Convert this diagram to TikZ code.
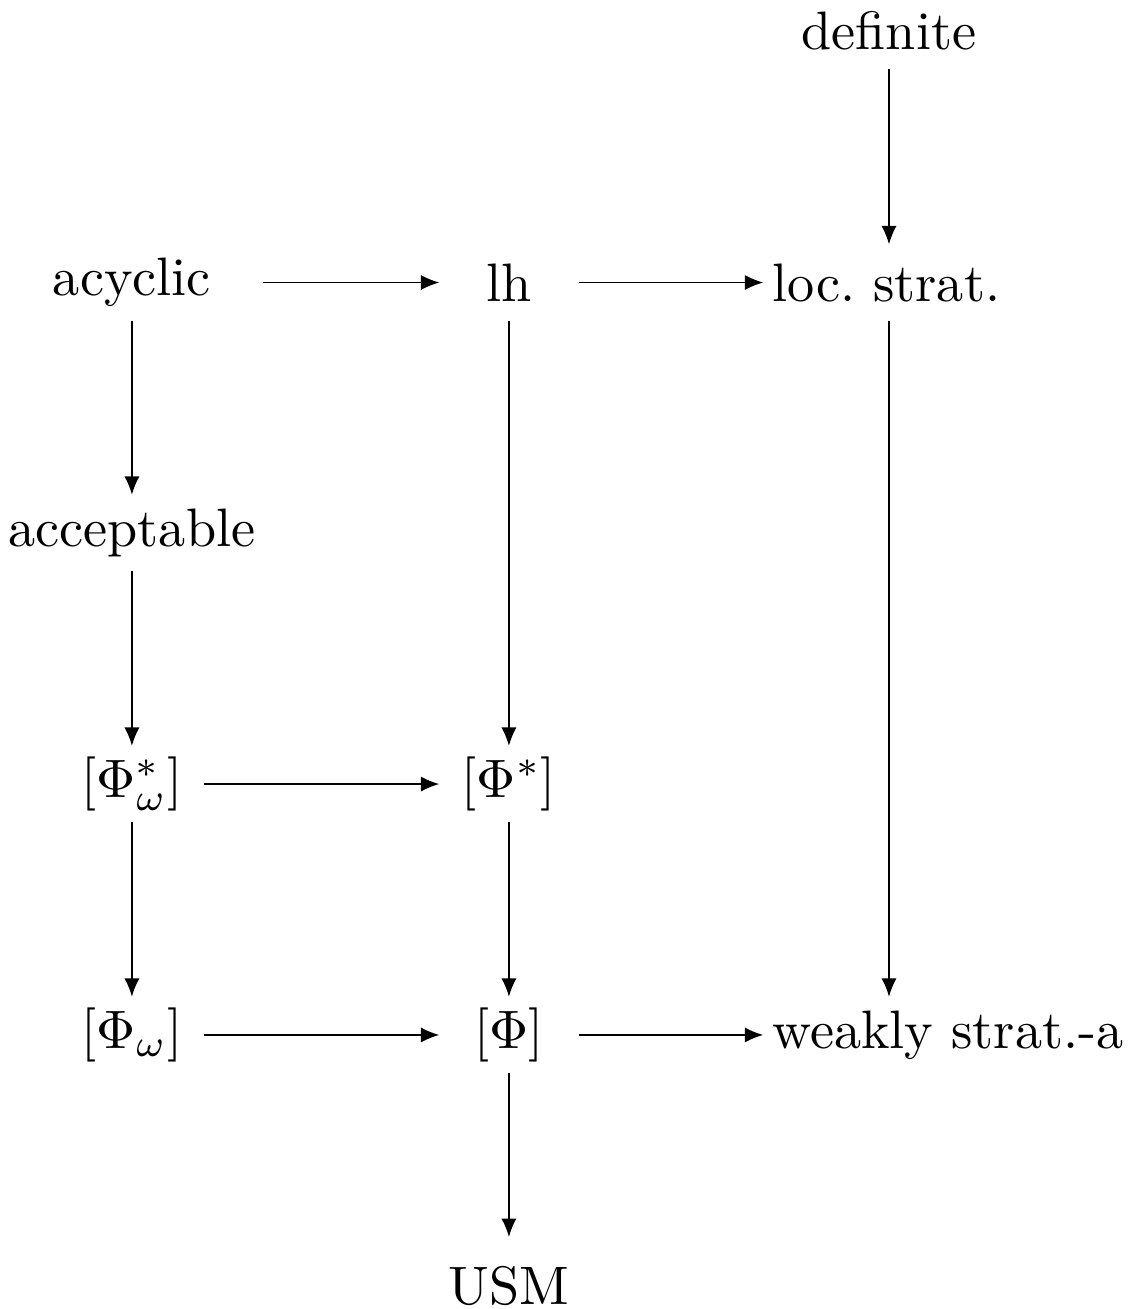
\documentclass[tikz,border=0pt]{standalone}
\usetikzlibrary{arrows.meta}
\tikzset{
  entry/.style={
    inner sep=0pt,
    minimum height=13.7pt
  },
  midcol/.style={entry, minimum width=25.3pt},
  imp/.style={-{Latex[length=3.4pt,width=2.8pt]}, line width=0.3pt}
}

\begin{document}
\begin{tikzpicture}

  \useasboundingbox (0,0) rectangle (7.377,8.493);

  % -------------------------------------------------------------------
  % entries
  % -------------------------------------------------------------------
  \node[entry] (definite) at (5.768,8.292) {definite};

  \node[entry] (acyclic) at (0.856,6.660) {acyclic};
  \node[midcol] (lh) at (3.302,6.660) {lh};
  \node[entry, anchor=west] (locstrat) at (5.005,6.660) {loc.\ strat.};

  \node[entry] (acceptable) at (0.856,5.035) {acceptable};

  \node[entry] (phistaromega) at (0.856,3.406) {$[\Phi^*_\omega]$};
  \node[midcol] (phistar) at (3.302,3.406) {$[\Phi^*]$};

  \node[entry] (phiomega) at (0.856,1.778) {$[\Phi_\omega]$};
  \node[midcol] (phi) at (3.302,1.778) {$[\Phi]$};
  \node[entry, anchor=west] (weakly) at (5.005,1.778) {weakly strat.-a};

  \node[entry] (usm) at (3.302,0.149) {USM};

  % -------------------------------------------------------------------
  % implications
  % -------------------------------------------------------------------
  \draw[imp] (definite) -- (definite |- locstrat.north);
  \draw[imp, shorten <=9.5pt] (acyclic) -- (lh);
  \draw[imp, shorten >=1.5pt] (lh) -- (locstrat);
  \draw[imp] (acyclic) -- (acceptable);
  \draw[imp] (acceptable) -- (phistaromega);
  \draw[imp] (lh) -- (phistar);
  \draw[imp] (definite |- locstrat.south) -- (definite |- weakly.north);
  \draw[imp, shorten <=3.8pt] (phistaromega) -- (phistar);
  \draw[imp] (phistaromega) -- (phiomega);
  \draw[imp] (phistar) -- (phi);
  \draw[imp, shorten <=3.8pt] (phiomega) -- (phi);
  \draw[imp, shorten >=1.5pt] (phi) -- (weakly);
  \draw[imp, shorten >=2pt] (phi) -- (usm);

\end{tikzpicture}
\end{document}
